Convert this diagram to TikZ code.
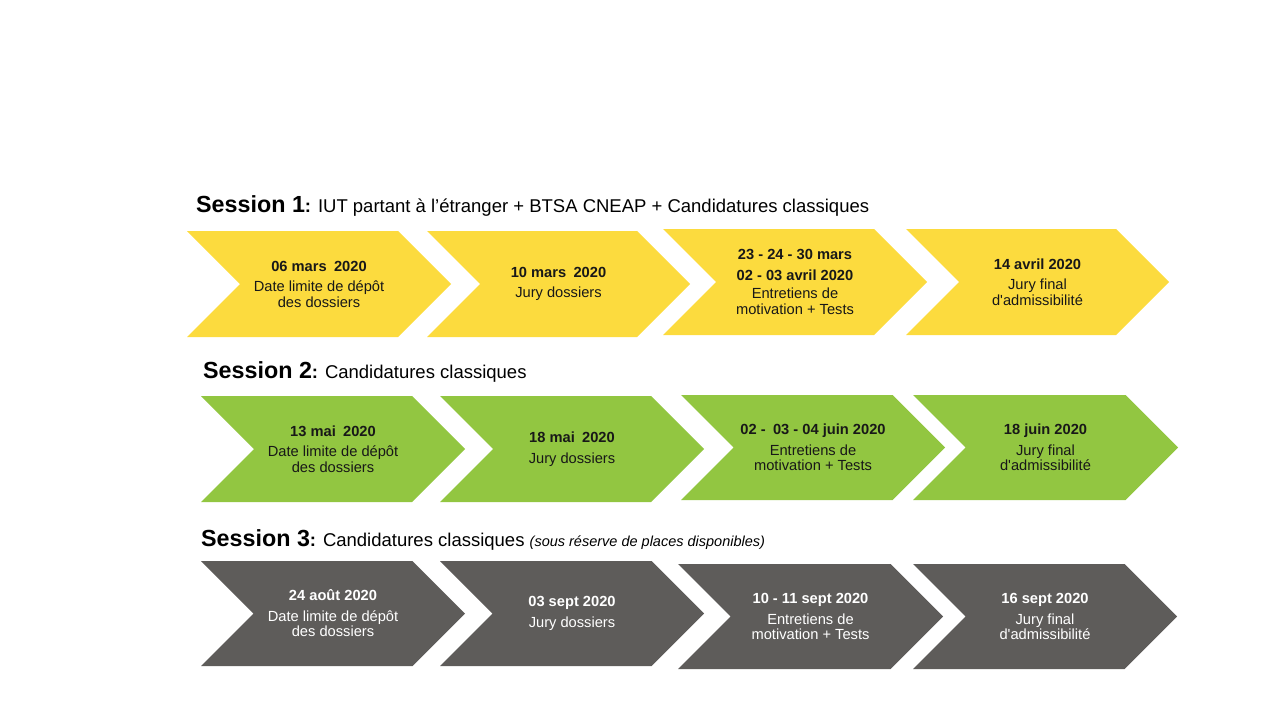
\documentclass[tikz,border=0pt]{standalone}
\usepackage{fontspec}
\setmainfont{Liberation Sans}
\definecolor{cyel}{RGB}{252,219,62}
\definecolor{cgrn}{RGB}{146,198,65}
\definecolor{cgry}{RGB}{94,92,90}
\definecolor{ctxt}{RGB}{24,24,24}
\tikzset{
  steptext/.style={align=center, inner sep=0pt, font=\fontsize{14.67}{15.5}\selectfont},
  head/.style={anchor=base west, inner sep=0pt, font=\fontsize{18.5}{20}\selectfont, text=black},
}
\newcommand\hb[1]{{\fontsize{23.3}{26}\selectfont\bfseries #1}}
\newcommand\apos{\textquotesingle}
% #1 name, #2 left, #3 top, #4 width, #5 height, #6 fill, #7 text colour, #8 text
\newcommand\mychev[8]{%
  \fill[#6] (#2,#3) -- ++({#4-#5/2},0) -- ++({#5/2},{#5/2}) -- ++({-#5/2},{#5/2})
    -- ++({#5/2-#4},0) -- ++({#5/2},{-#5/2}) -- cycle;
  \node[steptext,text=#7] (#1) at ({#2+#4/2},{#3+#5/2}) {#8};}
\begin{document}
\begin{tikzpicture}[x=1pt,y=-1pt]
\useasboundingbox (0,0) rectangle (1280,720);
% headings
\node[head] (h1) at (196,212) {\hb{Session 1}\textbf{:} IUT partant à l’étranger + BTSA CNEAP + Candidatures classiques};
\node[head] (h2) at (203,378) {\hb{Session 2}\textbf{:} Candidatures classiques};
\node[head] (h3) at (201,546) {\hb{Session 3}\textbf{:} Candidatures classiques {\fontsize{14.5}{15}\selectfont\itshape(sous réserve de places disponibles)}};
% session 1
\mychev{a1}{187}{231}{264}{106}{cyel}{ctxt}{\textbf{06 mars\hspace{0.5em}2020}\\[5pt]Date limite de dépôt\\des dossiers}
\mychev{a2}{427}{231}{263}{106}{cyel}{ctxt}{\textbf{10 mars\hspace{0.5em}2020}\\[5pt]Jury dossiers}
\mychev{a3}{663}{229}{264}{106}{cyel}{ctxt}{\textbf{23 - 24 - 30 mars}\\[5pt]\textbf{02 - 03 avril 2020}\\[3pt]Entretiens de\\motivation + Tests}
\mychev{a4}{906}{229}{263}{106}{cyel}{ctxt}{\textbf{14 avril 2020}\\[5pt]Jury final\\d\apos admissibilité}
% session 2
\mychev{b1}{201}{396}{264}{106}{cgrn}{ctxt}{\textbf{13 mai\hspace{0.5em}2020}\\[5pt]Date limite de dépôt\\des dossiers}
\mychev{b2}{440}{396}{264}{106}{cgrn}{ctxt}{\textbf{18 mai\hspace{0.5em}2020}\\[5pt]Jury dossiers}
\mychev{b3}{681}{395}{264}{105}{cgrn}{ctxt}{\textbf{02 -\hspace{0.5em}03 - 04 juin 2020}\\[5pt]Entretiens de\\motivation + Tests}
\mychev{b4}{913}{395}{265}{105}{cgrn}{ctxt}{\textbf{18 juin 2020}\\[5pt]Jury final\\d\apos admissibilité}
% session 3
\mychev{c1}{201}{561}{264}{105}{cgry}{white}{\textbf{24 août 2020}\\[5pt]Date limite de dépôt\\des dossiers}
\mychev{c2}{440}{561}{264}{105}{cgry}{white}{\textbf{03 sept 2020}\\[5pt]Jury dossiers}
\mychev{c3}{678}{564}{265}{105}{cgry}{white}{\textbf{10 - 11 sept 2020}\\[5pt]Entretiens de\\motivation + Tests}
\mychev{c4}{913}{564}{264}{105}{cgry}{white}{\textbf{16 sept 2020}\\[5pt]Jury final\\d\apos admissibilité}
\end{tikzpicture}
\end{document}
